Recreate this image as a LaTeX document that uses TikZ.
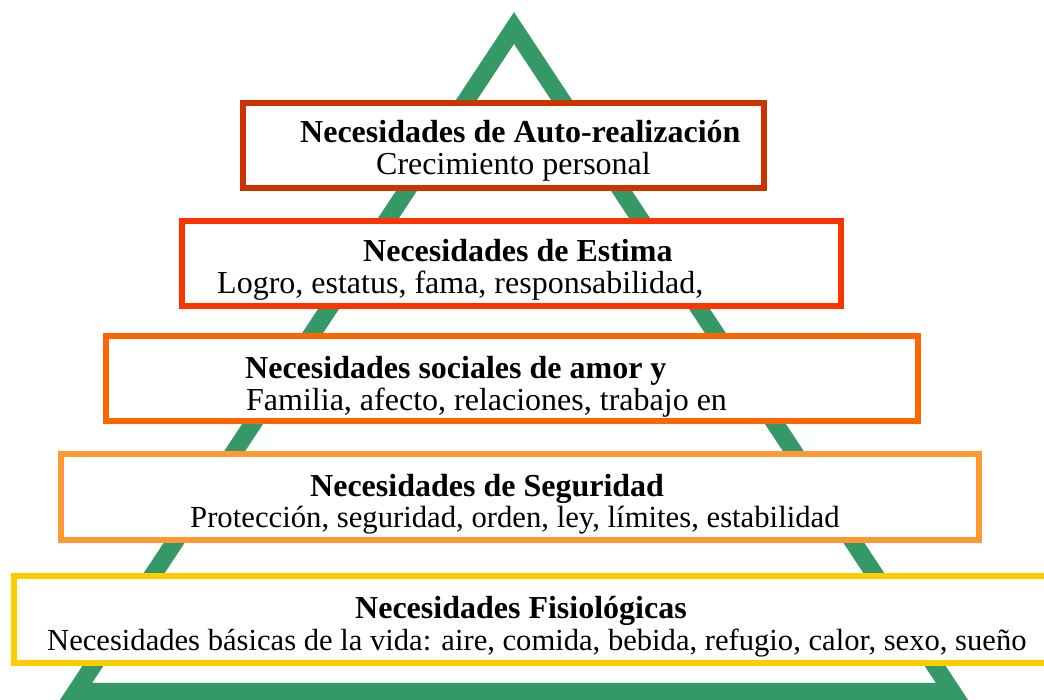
\documentclass[tikz,border=0pt]{standalone}
\usepackage{fontspec}
\setmainfont{Liberation Serif}
\definecolor{pyrgreen}{HTML}{349966}
\definecolor{lvlone}{HTML}{CC3300}
\definecolor{lvltwo}{HTML}{FF3300}
\definecolor{lvlthree}{HTML}{FF6600}
\definecolor{lvlfour}{HTML}{FF9933}
\definecolor{lvlfive}{HTML}{FFCC00}
\begin{document}
\begin{tikzpicture}[x=1pt,y=-1pt,%
% common options for the level boxes:
level/.style = {rectangle, draw, line width=6pt, fill=white, inner sep=0},
% common options for the texts:
head/.style = {anchor=base west, inner sep=0, font=\fontsize{32}{34}\selectfont\bfseries},
sub/.style = {anchor=base west, inner sep=0, font=\fontsize{32}{34}\selectfont}]
\useasboundingbox (0,0) rectangle (1044,700);
% the pyramid
\coordinate (T0) at (514,28);
\coordinate (T1) at (76,691.5);
\coordinate (T2) at (952,691.5);
\draw[pyrgreen,line width=17.5pt,line join=miter] (T0) -- (T1) -- (T2) -- cycle;
% the boxes
\node[level,draw=lvlone,minimum width=521pt,minimum height=85pt] (L1) at (503.5,145.5) {};
\node[level,draw=lvltwo,minimum width=659pt,minimum height=85pt] (L2) at (511.5,263.5) {};
\node[level,draw=lvlthree,minimum width=812pt,minimum height=85pt] (L3) at (512,378.5) {};
\node[level,draw=lvlfour,minimum width=918pt,minimum height=86pt] (L4) at (520,497) {};
\node[level,draw=lvlfive,minimum width=1039pt,minimum height=87pt] (L5) at (533.5,619.5) {};
% the texts
\node[head] (H1) at (300,143) {Necesidades de Auto-realización};
\node[sub] (S1) at (376,175) {Crecimiento personal};
\node[head] (H2) at (363,262) {Necesidades de Estima};
\node[sub] (S2) at (217,294) {Logro, estatus, fama, responsabilidad,};
\node[head] (H3) at (245,378) {Necesidades sociales de amor y};
\node[sub] (S3) at (246,410) {Familia, afecto, relaciones, trabajo en};
\node[head] (H4) at (310,496) {Necesidades de Seguridad};
\node[sub,font=\fontsize{30.7}{33}\selectfont] (S4) at (190,527) {Protección, seguridad, orden, ley, límites, estabilidad};
\node[head] (H5) at (355,618) {Necesidades Fisiológicas};
\node[sub,font=\fontsize{30.6}{33}\selectfont] (S5) at (47,650) {Necesidades básicas de la vida: aire, comida, bebida, refugio, calor, sexo, sueño};
\end{tikzpicture}
\end{document}
